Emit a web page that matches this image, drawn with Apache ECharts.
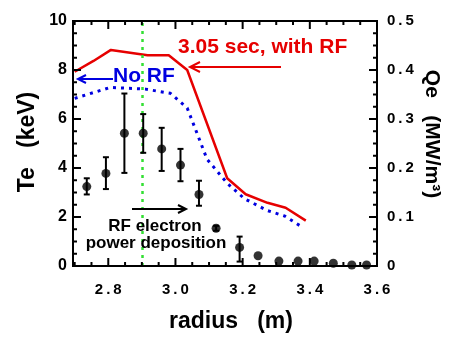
<!DOCTYPE html>
<html>
<head>
<meta charset="utf-8">
<script src="https://cdn.jsdelivr.net/npm/echarts@6/dist/echarts.min.js"></script>
<style>
  html, body { margin: 0; padding: 0; background: #fff; }
  #chart { width: 457px; height: 339px; }
</style>
</head>
<body>
<div id="chart"></div>
<script>
// Te with RF (3.05 sec), keV
var redX = [2.70, 2.756, 2.808, 2.917, 2.98, 3.035, 3.154, 3.209, 3.274, 3.328, 3.388];
var redY = [7.93, 8.37, 8.82, 8.60, 8.60, 8.00, 3.58, 2.93, 2.58, 2.38, 1.85];
// Te without RF, keV
var blueX = [2.70, 2.806, 2.91, 2.985, 3.035, 3.094, 3.154, 3.205, 3.274, 3.325, 3.37];
var blueY = [6.84, 7.29, 7.22, 7.05, 6.45, 4.36, 3.38, 2.75, 2.26, 2.04, 1.65];
// RF electron power deposition Qe, MW/m^3, with error bars
var qeX = [2.736, 2.793, 2.848, 2.904, 2.959, 3.015, 3.070, 3.121, 3.191, 3.246, 3.308, 3.365, 3.413, 3.470, 3.525, 3.569];
var qeY = [0.162, 0.189, 0.271, 0.271, 0.239, 0.206, 0.146, 0.077, 0.038, 0.021, 0.010, 0.010, 0.010, 0.0055, 0.002, 0.002];
var qeLow = [0.146, 0.157, 0.190, 0.231, 0.194, 0.173, 0.123, 0.072, 0.009, null, null, null, null, null, null, null];
var qeHigh = [0.179, 0.222, 0.352, 0.310, 0.282, 0.239, 0.174, 0.082, 0.060, null, null, null, null, null, null, null];

// axis ranges and tick positions
var xMin = 2.695, xMax = 3.6;
var teMax = 10, qeMax = 0.5;
var xMajor = [2.8, 3.0, 3.2, 3.4, 3.6];
var xMinor = [2.7, 2.75, 2.85, 2.9, 2.95, 3.05, 3.1, 3.15, 3.25, 3.3, 3.35, 3.45, 3.5, 3.55];
var teMajor = [2, 4, 6, 8];
var teMinor = [0.5, 1, 1.5, 2.5, 3, 3.5, 4.5, 5, 5.5, 6.5, 7, 7.5, 8.5, 9, 9.5];
var qeMajor = [0.1, 0.2, 0.3, 0.4];
var qeMinor = [0.025, 0.05, 0.075, 0.125, 0.15, 0.175, 0.225, 0.25, 0.275, 0.325, 0.35, 0.375, 0.425, 0.45, 0.475];
var rfLineX = 2.9;

var FONT = 'Liberation Sans, Arial, Helvetica, sans-serif';
var MAJOR = 8, MINOR = 4;
var GRID = { left: 73, right: 80, top: 21, bottom: 73 };

function pair(xs, ys) {
    return xs.map(function (x, i) { return [x, ys[i]]; });
}

function dotted(v) {
    return v.toFixed(1).replace('.', '\u2009.\u2009');
}

var lineSt = { stroke: '#000', lineWidth: 2 };

function seg(x1, y1, x2, y2, color) {
    return { type: 'line', z: 9, shape: { x1: x1, y1: y1, x2: x2, y2: y2 },
             style: { stroke: color || '#000', lineWidth: 2 } };
}

var chart = echarts.init(document.getElementById('chart'));

var errData = [];
qeX.forEach(function (x, i) {
    if (qeLow[i] != null) errData.push([x, qeLow[i], qeHigh[i]]);
});

function arrow(x1, x2, y, head, color) {
    var d = x2 < x1 ? 1 : -1;
    return [
        seg(x1, y, x2, y, color),
        { type: 'polyline', z: 9, shape: { points: [[x2 + d * head, y - head * 0.5], [x2, y], [x2 + d * head, y + head * 0.5]] },
          style: { stroke: color, lineWidth: 2, fill: null } }
    ];
}

function labelAxis(pos, max, interval, label) {
    return {
        type: 'value', min: 0, max: max, interval: interval, position: pos,
        axisLine: { show: false }, axisTick: { show: false }, splitLine: { show: false },
        axisLabel: label
    };
}

var option = {
    animation: false,
    grid: GRID,
    xAxis: {
        type: 'value', min: xMin, max: xMax, position: 'bottom',
        axisLine: { show: false }, axisTick: { show: false }, splitLine: { show: false },
        axisLabel: {
            customValues: xMajor, margin: 16,
            fontFamily: FONT, fontWeight: 'bold', fontSize: 15, color: '#000',
            formatter: dotted
        }
    },
    yAxis: [
        labelAxis('left', teMax, 2, { margin: 6, fontFamily: FONT, fontWeight: 'bold', fontSize: 16, color: '#000' }),
        labelAxis('right', qeMax, 0.1, {
            margin: 10, fontFamily: FONT, fontWeight: 'bold', fontSize: 15, color: '#000',
            formatter: function (v) { return v === 0 ? '0' : dotted(v); }
        })
    ],
    series: [
        {
            name: 'with RF', type: 'line', data: pair(redX, redY), showSymbol: false, z: 4,
            lineStyle: { color: '#e60000', width: 2.5 },
            markLine: {
                silent: true, symbol: 'none', label: { show: false },
                lineStyle: { color: '#33e033', type: [3, 5], width: 2.5 },
                data: [{ xAxis: rfLineX }]
            }
        },
        {
            name: 'No RF', type: 'line', data: pair(blueX, blueY), showSymbol: false, z: 3,
            lineStyle: { color: '#0000e0', width: 3, type: [3, 5] }
        },
        {
            name: 'Qe err', type: 'custom', yAxisIndex: 1, data: errData, z: 5,
            renderItem: function (params, api) {
                var lo = api.coord([api.value(0), api.value(1)]);
                var hi = api.coord([api.value(0), api.value(2)]);
                var c = 3;
                return {
                    type: 'group',
                    children: [
                        { type: 'line', shape: { x1: lo[0], y1: lo[1], x2: hi[0], y2: hi[1] }, style: lineSt },
                        { type: 'line', shape: { x1: lo[0] - c, y1: lo[1], x2: lo[0] + c, y2: lo[1] }, style: lineSt },
                        { type: 'line', shape: { x1: hi[0] - c, y1: hi[1], x2: hi[0] + c, y2: hi[1] }, style: lineSt }
                    ]
                };
            }
        },
        {
            name: 'Qe', type: 'scatter', yAxisIndex: 1, data: pair(qeX, qeY), z: 6,
            symbol: 'circle', symbolSize: 9, itemStyle: { color: '#000' }
        }
    ]
};

chart.setOption(option);

// pixel positions through the grid's scales, with a linear fallback over the grid box
var W = chart.getWidth(), H = chart.getHeight();
var gL = GRID.left, gR = W - GRID.right, gT = GRID.top, gB = H - GRID.bottom;
function ok(v) { return typeof v === 'number' && isFinite(v); }
function px(v) {
    var p = chart.convertToPixel({ gridIndex: 0 }, [v, 0]);
    return p && ok(p[0]) ? p[0] : gL + (v - xMin) / (xMax - xMin) * (gR - gL);
}
function pyTe(v) {
    var p = chart.convertToPixel({ gridIndex: 0 }, [xMin, v]);
    return p && ok(p[1]) ? p[1] : gB - v / teMax * (gB - gT);
}
function pyQe(v) {
    return pyTe(v / qeMax * teMax);
}

var L = px(xMin), R = px(xMax), T = pyTe(teMax), B = pyTe(0);
var frame = [
    seg(L - 1, T, R + 1, T), seg(L - 1, B, R + 1, B), seg(L, T, L, B), seg(R, T, R, B)
];
var tickEls = [];
function xTickEls(values, len) {
    values.forEach(function (v) {
        var x = px(v);
        tickEls.push(seg(x, B, x, B - len), seg(x, T, x, T + len));
    });
}
xTickEls(xMajor, MAJOR);
xTickEls(xMinor, MINOR);
teMajor.forEach(function (v) { var y = pyTe(v); tickEls.push(seg(L, y, L + MAJOR, y)); });
teMinor.forEach(function (v) { var y = pyTe(v); tickEls.push(seg(L, y, L + MINOR, y)); });
qeMajor.forEach(function (v) { var y = pyQe(v); tickEls.push(seg(R, y, R - MAJOR, y)); });
qeMinor.forEach(function (v) { var y = pyQe(v); tickEls.push(seg(R, y, R - MINOR, y)); });

var texts = [
    { type: 'text', x: 28, y: 142, rotation: Math.PI / 2, z: 10,
      style: { text: 'Te   (keV)', font: 'bold 23px ' + FONT, fill: '#000', align: 'center', verticalAlign: 'middle' } },
    { type: 'text', x: 432, y: 134, rotation: -Math.PI / 2, z: 10,
      style: { text: 'Qe   (MW/m\u00b3)', font: 'bold 21px ' + FONT, fill: '#000', align: 'center', verticalAlign: 'middle' } },
    { type: 'text', x: 231, y: 322, z: 10,
      style: { text: 'radius   (m)', font: 'bold 23px ' + FONT, fill: '#000', align: 'center', verticalAlign: 'middle' } },
    { type: 'text', left: 178, top: 37, z: 10,
      style: { text: '3.05 sec, with RF', font: 'bold 21px ' + FONT, fill: '#e60000' } },
    { type: 'text', left: 113, top: 66, z: 10,
      style: { text: 'No RF', font: 'bold 21px ' + FONT, fill: '#0000e0' } },
    { type: 'text', x: 155, y: 226, z: 10,
      style: { text: 'RF electron', font: 'bold 17px ' + FONT, fill: '#000', align: 'center', verticalAlign: 'middle' } },
    { type: 'text', x: 156, y: 243, z: 10,
      style: { text: 'power deposition', font: 'bold 17px ' + FONT, fill: '#000', align: 'center', verticalAlign: 'middle' } }
];

chart.setOption({
    graphic: [].concat(
        texts,
        arrow(281, 190, 67, 10, '#e60000'),
        arrow(113, 78, 79, 8, '#0000e0'),
        arrow(132, 186, 209, 8, '#000'),
        frame,
        tickEls
    )
});
</script>
</body>
</html>
